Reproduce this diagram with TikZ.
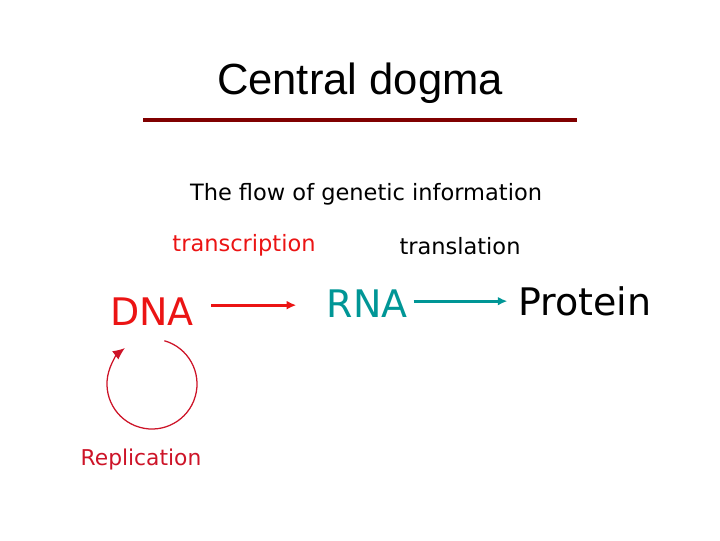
\documentclass[tikz,border=0pt]{standalone}
\usepackage{fontspec}
\setmainfont{DejaVu Sans}
\newfontfamily\titlefont{Liberation Sans}
\usetikzlibrary{positioning,arrows.meta,calc}
\definecolor{dnared}{RGB}{235,20,20}
\definecolor{repred}{RGB}{205,20,40}
\definecolor{rnateal}{RGB}{0,150,150}
\definecolor{rulered}{RGB}{128,0,0}
\tikzset{
  lbl/.style={anchor=base, inner sep=0pt, font=\fontsize{16}{18}\selectfont},
  big/.style={anchor=base, inner sep=0pt, font=\fontsize{27}{30}\selectfont},
  dnaarr/.style={-{Latex[length=2.4mm,width=2.2mm]}, line width=2.2pt, dnared},
  rnaarr/.style={-{Latex[length=2.4mm,width=2.2mm]}, line width=2.2pt, rnateal},
  reparr/.style={-{Latex[length=3mm,width=2.6mm]}, line width=0.9pt, repred},
}

\begin{document}
\begin{tikzpicture}[x=0.025cm, y=0.025cm]
    \useasboundingbox (0,0) rectangle (720,-540);
    \node[anchor=base, inner sep=0pt, font=\titlefont\fontsize{31}{34}\selectfont] (title) at (360,-94) {Central dogma};
    \draw[rulered, line width=2.8pt] (143,-120) -- (577,-120);
    \node[lbl] (flow) at (366,-200) {The flow of genetic information};
    \node[lbl, dnared] (tsc) at (244,-251) {transcription};
    \node[lbl] (tsl) at (460,-254) {translation};
    \node[big, dnared] (dna) at (152,-325) {DNA};
    \node[big, rnateal] (rna) at (367,-317) {RNA};
    \node[big] (prot) at (585,-315) {Protein};
    \node[lbl, repred, font=\fontsize{15.5}{18}\selectfont] (rep) at (141,-465) {Replication};
    \coordinate (cyc) at (152,-384);
    \draw[dnaarr, shorten <=0.425cm, shorten >=0.75cm]
      ([yshift=0.15cm]dna.east) -- ([yshift=0.15cm]dna.east -| rna.west);
    \draw[rnaarr, shorten <=0.15cm, shorten >=0.27cm]
      ([yshift=0.05cm]rna.east) -- ([yshift=0.05cm]rna.east -| prot.west);
    \draw[reparr] ([shift={(74:1.125cm)}]cyc) arc[start angle=74, end angle=-233, radius=1.125cm];
  \end{tikzpicture}
\end{document}
